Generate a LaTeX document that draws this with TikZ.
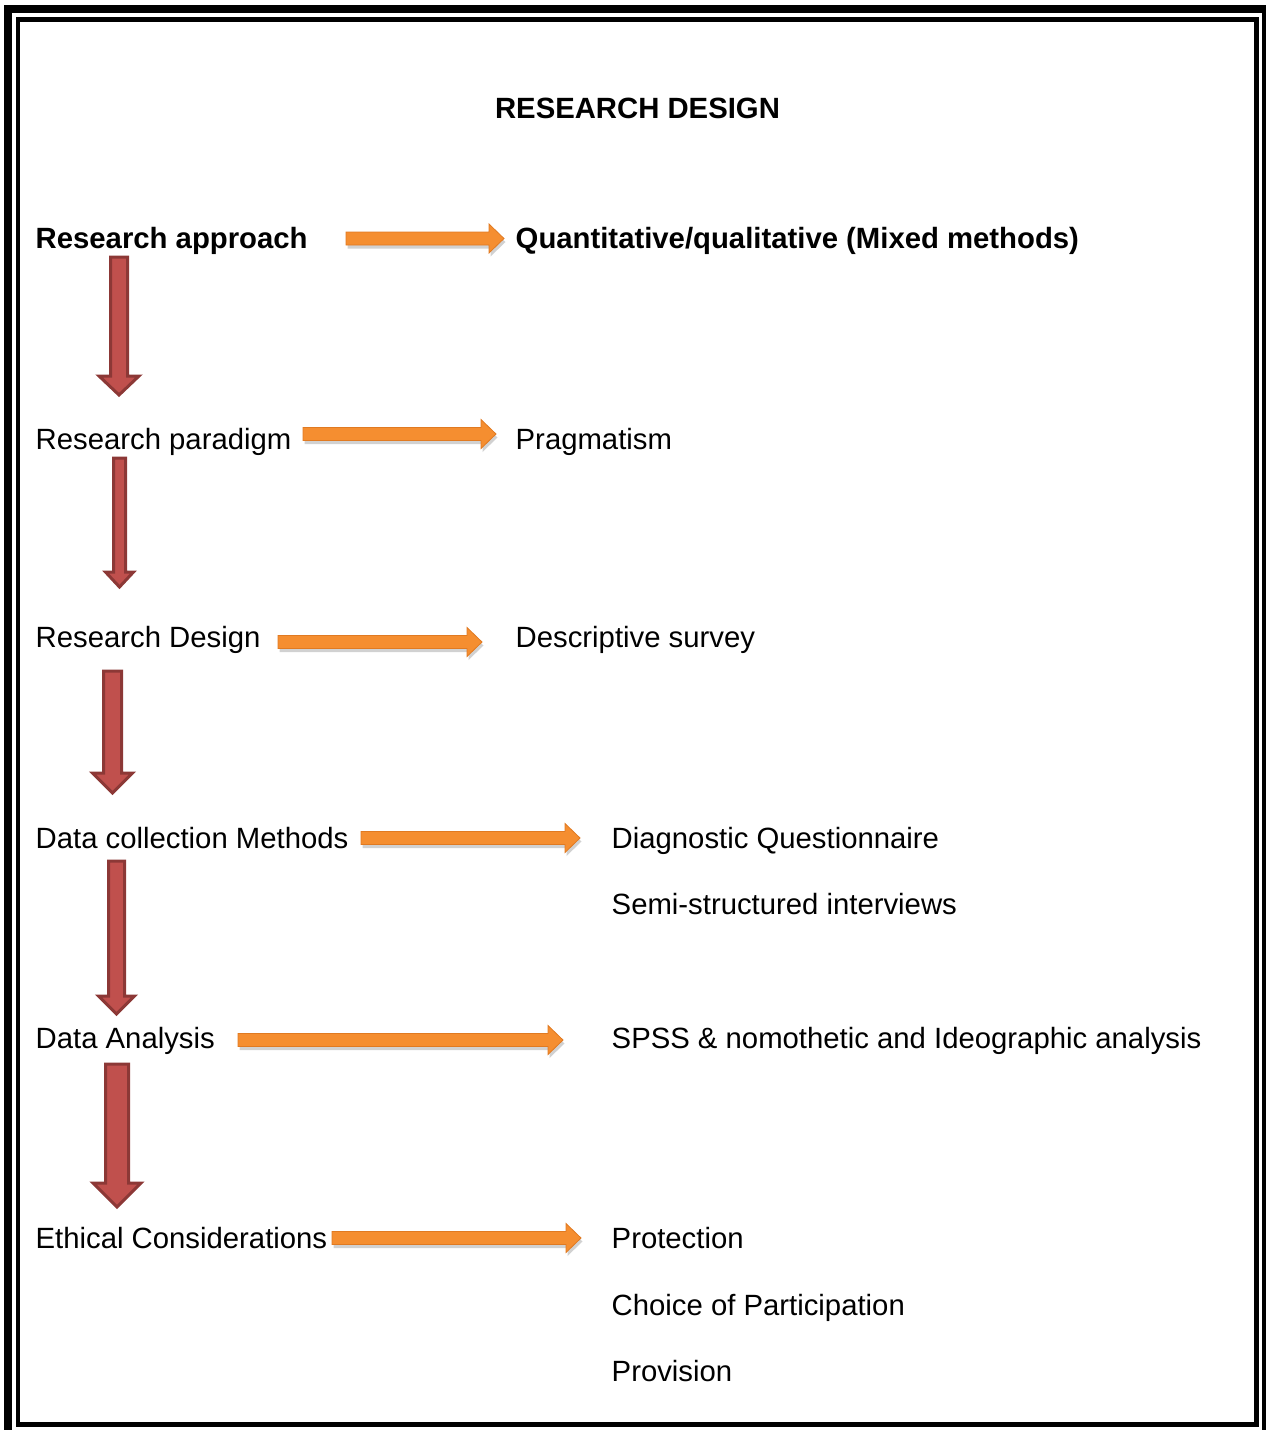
\documentclass[tikz,border=0pt]{standalone}
\usepackage{fontspec}
\setmainfont{Liberation Sans}
\usetikzlibrary{calc}
\definecolor{arrorange}{HTML}{F58E30}
\definecolor{arrorangedark}{HTML}{E07A22}
\definecolor{arrred}{HTML}{C0504D}
\definecolor{arrreddark}{HTML}{8C3836}
\newcommand\diagfont{\fontsize{29.3}{34}\selectfont}
\newcommand\orangepath[2]{let \p1=(#1),\p2=(#2) in (\x1,\y1+6.5) -- (\x2-15,\y1+6.5) -- (\x2-15,\y1+14.5) -- (\x2,\y1) -- (\x2-15,\y1-14.5) -- (\x2-15,\y1-6.5) -- (\x1,\y1-6.5) -- cycle}
\newcommand\orangearrow[2]{%
  \fill[orangeshadow] \orangepath{#1}{#2};
  \filldraw[orangebody] \orangepath{#1}{#2};}
\newcommand\redarrow[5]{%
  \filldraw[redbody] let \p1=(#1),\p2=(#2) in (\x1-#3,\y1) -- (\x1+#3,\y1) -- (\x1+#3,\y2+#5) -- (\x1+#4,\y2+#5) -- (\x1,\y2) -- (\x1-#4,\y2+#5) -- (\x1-#3,\y2+#5) -- cycle;}
\tikzset{
  lbl/.style={anchor=base west, inner sep=0pt, font=\diagfont},
  boldlbl/.style={lbl, font=\diagfont\bfseries},
  orangebody/.style={fill=arrorange, draw=arrorangedark, line width=0.8pt, line join=miter},
  orangeshadow/.style={fill=black, opacity=0.18, transform canvas={xshift=1.5pt, yshift=-3.5pt}},
  redbody/.style={fill=arrred, draw=arrreddark, line width=3pt, line join=miter}
}
\begin{document}
\begin{tikzpicture}[x=1pt, y=-1pt]
\useasboundingbox (0,0) rectangle (1266,1430);
\draw[line width=8pt] (8,9) rectangle (1266,1435);
\draw[line width=4.5pt] (18,19.5) rectangle (1256.5,1424.5);

\node[boldlbl, anchor=base] (title) at (637.5,118.5) {RESEARCH DESIGN};

\node[boldlbl] (approach) at (35.5,248.5) {Research approach};
\node[boldlbl] (mixed) at (515.5,248.5) {Quantitative/qualitative (Mixed methods)};
\node[lbl] (paradigm) at (35.5,449.5) {Research paradigm};
\node[lbl] (pragmatism) at (515.5,449.5) {Pragmatism};
\node[lbl] (design) at (35.5,647.5) {Research Design};
\node[lbl] (survey) at (515.5,647.5) {Descriptive survey};
\node[lbl] (collection) at (35.5,848.5) {Data collection Methods};
\node[lbl] (questionnaire) at (611.5,848.5) {Diagnostic Questionnaire};
\node[lbl] (interviews) at (611.5,914.5) {Semi-structured interviews};
\node[lbl] (analysis) at (35.5,1048.5) {Data Analysis};
\node[lbl] (spss) at (611.5,1048.5) {SPSS \& nomothetic and Ideographic analysis};
\node[lbl] (ethics) at (35.5,1248.5) {Ethical Considerations};
\node[lbl] (protection) at (611.5,1248.5) {Protection};
\node[lbl] (choice) at (611.5,1315.5) {Choice of Participation};
\node[lbl] (provision) at (611.5,1381.5) {Provision};

\coordinate (o1s) at (346,238.5);  \coordinate (o1e) at (504,238.5);
\coordinate (o2s) at (303,434);    \coordinate (o2e) at (496,434);
\coordinate (o3s) at (278,642);    \coordinate (o3e) at (482,642);
\coordinate (o4s) at (361,838);    \coordinate (o4e) at (580,838);
\coordinate (o5s) at (238,1040);   \coordinate (o5e) at (563,1040);
\coordinate (o6s) at (332,1238);   \coordinate (o6e) at (581,1238);

\orangearrow{o1s}{o1e}
\orangearrow{o2s}{o2e}
\orangearrow{o3s}{o3e}
\orangearrow{o4s}{o4e}
\orangearrow{o5s}{o5e}
\orangearrow{o6s}{o6e}

\coordinate (r1s) at (119,257);    \coordinate (r1e) at (119,395);
\coordinate (r2s) at (119.5,458);  \coordinate (r2e) at (119.5,587);
\coordinate (r3s) at (112.5,671);  \coordinate (r3e) at (112.5,793);
\coordinate (r4s) at (116.5,861);  \coordinate (r4e) at (116.5,1014);
\coordinate (r5s) at (117,1064);   \coordinate (r5e) at (117,1207);

\redarrow{r1s}{r1e}{8.5}{20}{19}
\redarrow{r2s}{r2e}{6}{14}{15}
\redarrow{r3s}{r3e}{9}{20}{20}
\redarrow{r4s}{r4e}{8}{18}{18}
\redarrow{r5s}{r5e}{11.5}{24}{24}
\end{tikzpicture}
\end{document}
